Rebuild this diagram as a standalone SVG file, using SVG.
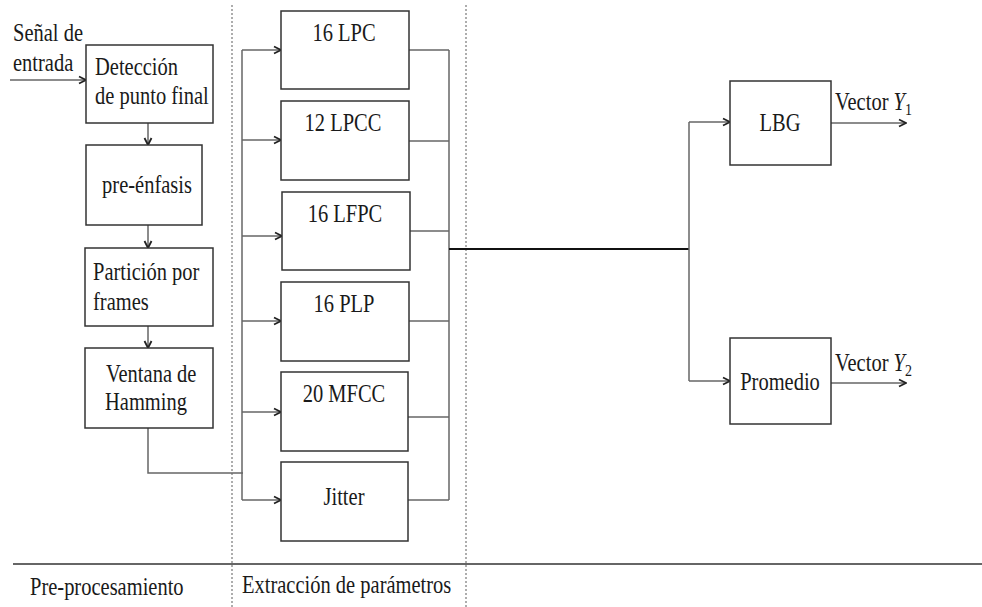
<svg xmlns="http://www.w3.org/2000/svg" width="982" height="607" viewBox="0 0 982 607" font-family="Liberation Serif, serif">
<style>
text{font-size:20.5px;fill:#1a1a1a}
.box{fill:#fff;stroke:#333;stroke-width:1.5}
.c{fill:none;stroke:#666;stroke-width:1.5}
.main{fill:none;stroke:#111;stroke-width:2}
.dot{fill:none;stroke:#777;stroke-width:1.2;stroke-dasharray:2 2}
.sep{fill:none;stroke:#666;stroke-width:2}
.mid{text-anchor:middle}
</style>
<defs>
<marker id="ah" viewBox="0 0 10 10" refX="9" refY="5" markerWidth="10" markerHeight="10" markerUnits="userSpaceOnUse" orient="auto">
<path d="M2,1.5 L9,5 L2,8.5" fill="none" stroke="#222" stroke-width="1.8"/>
</marker>
</defs>
<rect width="982" height="607" fill="#fff"/>
<g id="separators">
<path class="dot" d="M232,5 V607"/>
<path class="dot" d="M466,5 V607"/>
<path class="sep" d="M13,564 H982"/>
</g>
<g id="connectors">
<path class="c" d="M10,80 H86" marker-end="url(#ah)"/>
<path class="c" d="M148,123 V145" marker-end="url(#ah)"/>
<path class="c" d="M148,225 V248" marker-end="url(#ah)"/>
<path class="c" d="M148,326 V348" marker-end="url(#ah)"/>
<path class="c" d="M148,428 V473 H243"/>
<path class="c" d="M242,50 V500"/>
<path class="c" d="M242,50 H281" marker-end="url(#ah)"/>
<path class="c" d="M242,140 H281" marker-end="url(#ah)"/>
<path class="c" d="M242,236 H282" marker-end="url(#ah)"/>
<path class="c" d="M242,321 H281" marker-end="url(#ah)"/>
<path class="c" d="M242,412 H281" marker-end="url(#ah)"/>
<path class="c" d="M242,500 H281" marker-end="url(#ah)"/>
<path class="c" d="M409,50 H449"/>
<path class="c" d="M409,141 H449"/>
<path class="c" d="M410,231 H449"/>
<path class="c" d="M409,321 H449"/>
<path class="c" d="M408,417 H449"/>
<path class="c" d="M408,500 H449"/>
<path class="c" d="M449,50 V500"/>
<path class="main" d="M449,249 H689"/>
<path class="c" d="M689,122 V381"/>
<path class="c" d="M689,122 H730" marker-end="url(#ah)"/>
<path class="c" d="M689,381 H730" marker-end="url(#ah)"/>
<path class="c" d="M831,123 H906" marker-end="url(#ah)"/>
<path class="c" d="M831,383 H906" marker-end="url(#ah)"/>
</g>
<g id="input-label">
<text transform="translate(13 41) scale(1 1.18)">Señal de</text>
<text transform="translate(13 71) scale(1 1.18)">entrada</text>
</g>
<g id="deteccion">
<rect class="box" x="86" y="45" width="127" height="78"/>
<text transform="translate(95 75) scale(1 1.18)">Detección</text>
<text transform="translate(95 104) scale(1 1.18)">de punto final</text>
</g>
<g id="preenfasis">
<rect class="box" x="86" y="145" width="116" height="80"/>
<text class="mid" transform="translate(147 193) scale(1 1.18)">pre-énfasis</text>
</g>
<g id="particion">
<rect class="box" x="85" y="248" width="128" height="78"/>
<text transform="translate(93 280) scale(1 1.18)">Partición por</text>
<text transform="translate(93 310) scale(1 1.18)">frames</text>
</g>
<g id="ventana">
<rect class="box" x="85" y="348" width="128" height="80"/>
<text transform="translate(106 382) scale(1 1.18)">Ventana de</text>
<text transform="translate(105 410) scale(1 1.18)">Hamming</text>
</g>
<g id="lpc">
<rect class="box" x="281" y="11" width="128" height="78"/>
<text class="mid" transform="translate(344 41) scale(1 1.18)">16 LPC</text>
</g>
<g id="lpcc">
<rect class="box" x="281" y="101" width="128" height="79"/>
<text class="mid" transform="translate(343 131) scale(1 1.18)">12 LPCC</text>
</g>
<g id="lfpc">
<rect class="box" x="282" y="192" width="128" height="78"/>
<text class="mid" transform="translate(345 222) scale(1 1.18)">16 LFPC</text>
</g>
<g id="plp">
<rect class="box" x="281" y="282" width="128" height="79"/>
<text class="mid" transform="translate(344 312) scale(1 1.18)">16 PLP</text>
</g>
<g id="mfcc">
<rect class="box" x="281" y="372" width="127" height="79"/>
<text class="mid" transform="translate(344 402) scale(1 1.18)">20 MFCC</text>
</g>
<g id="jitter">
<rect class="box" x="281" y="462" width="127" height="79"/>
<text class="mid" transform="translate(344 505) scale(1 1.18)">Jitter</text>
</g>
<g id="lbg">
<rect class="box" x="730" y="81" width="101" height="84"/>
<text class="mid" transform="translate(780 131) scale(1 1.18)">LBG</text>
</g>
<g id="promedio">
<rect class="box" x="730" y="338" width="101" height="86"/>
<text class="mid" transform="translate(780 390) scale(1 1.18)">Promedio</text>
</g>
<g id="outputs">
<text transform="translate(835 110) scale(1 1.18)">Vector <tspan font-style="italic">Y</tspan><tspan font-size="14" dy="4">1</tspan></text>
<text transform="translate(835 371) scale(1 1.18)">Vector <tspan font-style="italic">Y</tspan><tspan font-size="14" dy="4">2</tspan></text>
</g>
<g id="section-labels">
<text transform="translate(30 595) scale(1 1.18)">Pre-procesamiento</text>
<text transform="translate(242 593) scale(1 1.18)">Extracción de parámetros</text>
</g>
</svg>
